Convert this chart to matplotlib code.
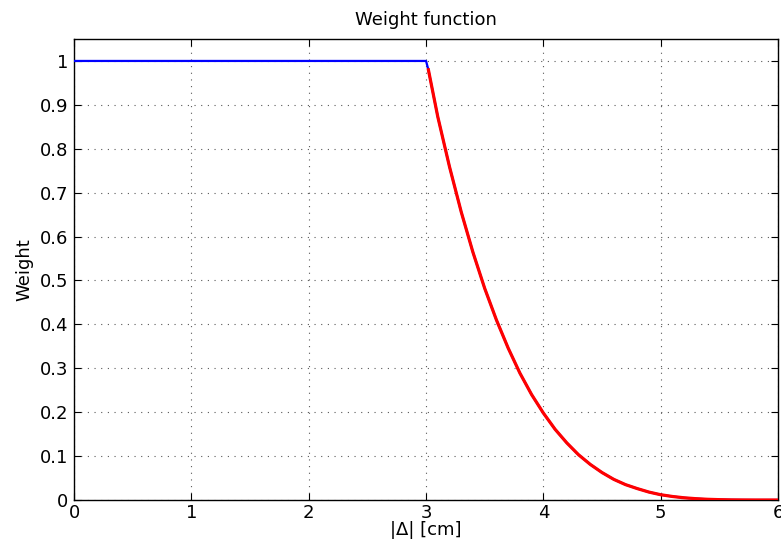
import numpy as np
import matplotlib.pyplot as plt

# |delta| [cm] and weight
blue_d = [0.0, 1.0, 2.0, 3.0, 3.02, 3.1, 3.2, 3.3, 3.4, 3.5, 3.6, 3.7, 3.8, 3.9, 4.0,
          4.1, 4.2, 4.3, 4.4, 4.5, 4.6, 4.7, 4.8, 4.9, 5.0, 5.1, 5.2, 5.3, 5.4,
          5.5, 5.6, 5.7, 5.8, 5.9, 6.0]
blue_w = [1.0, 1.0, 1.0, 1.0, 0.98, 0.873, 0.759, 0.656, 0.564, 0.482, 0.410, 0.346,
          0.289, 0.240, 0.198, 0.161, 0.130, 0.103, 0.081, 0.0625, 0.047, 0.035,
          0.026, 0.018, 0.012, 0.008, 0.005, 0.003, 0.0016, 0.0008, 0.0003, 0.0001,
          0.0, 0.0, 0.0]
red_d = blue_d[4:]
red_w = blue_w[4:]

xticks = [0, 1, 2, 3, 4, 5, 6]
yticks = [0, 0.1, 0.2, 0.3, 0.4, 0.5, 0.6, 0.7, 0.8, 0.9, 1]
ytick_labels = ['0', '0.1', '0.2', '0.3', '0.4', '0.5', '0.6', '0.7', '0.8', '0.9', '1']

plt.rcParams['font.family'] = ['DejaVu Sans']
plt.rcParams['font.size'] = 13

fig = plt.figure(figsize=(7.81, 5.44), dpi=100)
ax = fig.add_axes([0.0948, 0.0809, 0.9014, 0.8474])

ax.plot(blue_d, blue_w, color='#0000ff', lw=1.6, zorder=3)
ax.plot(red_d, red_w, color='#ff0000', lw=2.3, zorder=4)

ax.set_xlim(0, 6)
ax.set_ylim(0, 1.05)
ax.set_xticks(xticks)
ax.set_yticks(yticks)
ax.set_yticklabels(ytick_labels)
ax.tick_params(direction='in', length=5, width=0.8, top=True, right=True, pad=4)
ax.tick_params(axis='x', pad=3)
ax.grid(True, color='0.35', linestyle=(0, (1, 5)), linewidth=0.8)
for s in ax.spines.values():
    s.set_linewidth(1.0)

ax.set_title('Weight function', fontsize=13, pad=10)
ax.set_xlabel('|\u0394| [cm]', fontsize=13, labelpad=-1)
ax.set_ylabel('Weight', fontsize=13, labelpad=5)

fig.savefig('out.png', dpi=100)
